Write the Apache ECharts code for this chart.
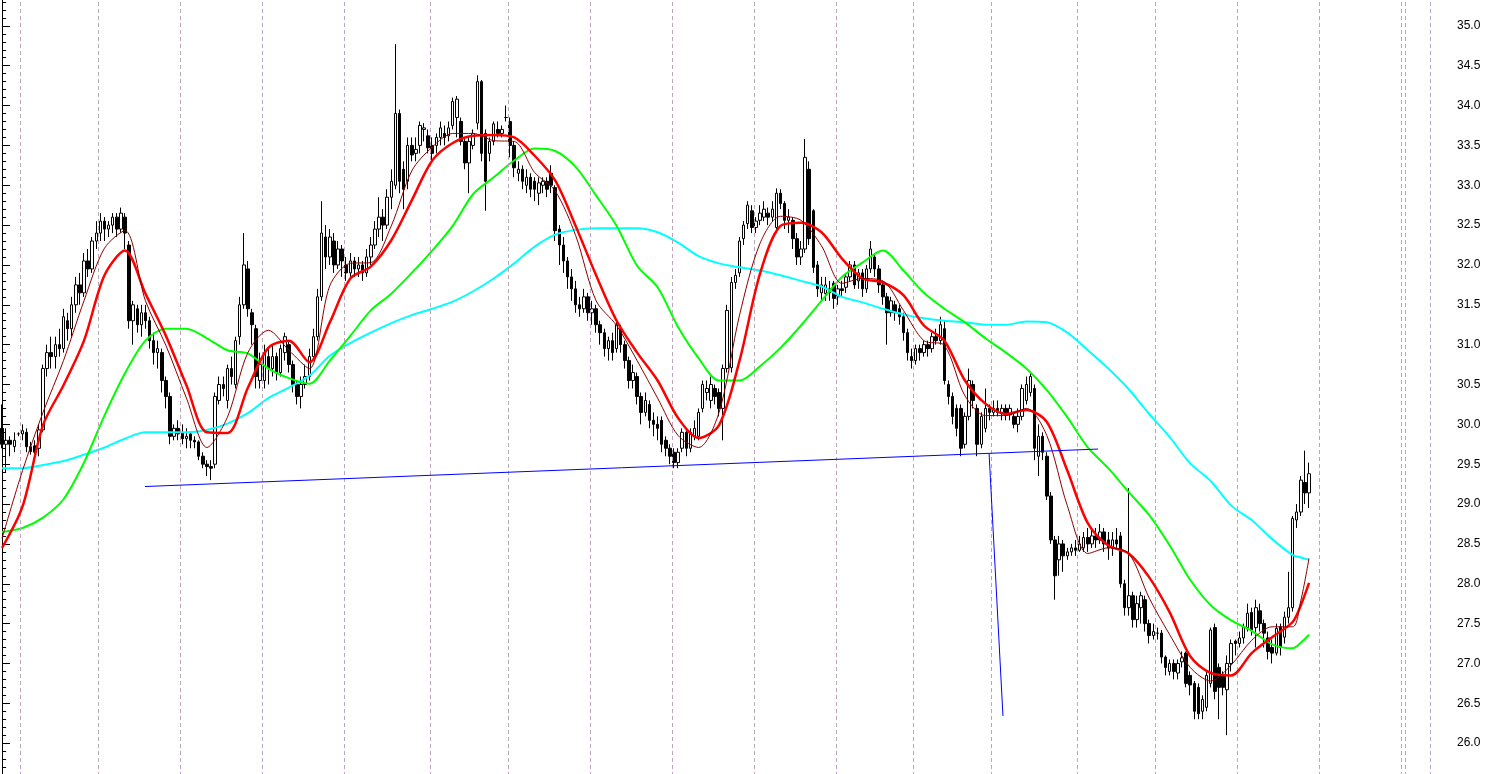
<!DOCTYPE html>
<html><head><meta charset="utf-8">
<script src="https://cdn.jsdelivr.net/npm/echarts/dist/echarts.min.js"></script>
<style>html,body{margin:0;padding:0;background:#fff;overflow:hidden}#c{width:1486px;height:774px}</style>
</head><body><div id="c"></div>
<script>
const SLOTS = 350;
const opens = [
29.95,29.75,29.80,29.72,29.88,29.88,29.90,29.72,29.73,29.70,
29.93,30.70,30.90,30.85,31.00,30.95,31.30,31.20,31.50,31.75,
31.65,32.05,31.95,32.30,32.40,32.55,32.45,32.50,32.60,32.45,
32.60,32.25,31.30,31.45,31.25,31.40,31.30,31.05,30.90,30.90,
30.55,30.35,29.85,29.95,29.90,29.82,29.88,29.80,29.78,29.60,
29.50,29.47,29.50,30.30,30.50,30.30,30.70,30.50,31.10,31.50,
31.95,31.40,31.20,30.55,30.55,30.85,30.70,30.85,30.65,30.90,
31.00,30.75,30.50,30.35,30.50,30.60,30.85,31.10,31.60,32.35,
32.10,32.30,32.00,32.20,32.00,31.90,32.05,31.95,32.00,31.90,
32.10,32.25,32.45,32.60,32.50,32.85,33.00,33.90,33.20,33.05,
33.50,33.40,33.50,33.70,33.62,33.50,33.50,33.60,33.65,33.62,
33.75,33.85,33.80,33.55,33.28,33.50,33.78,34.30,33.65,33.40,
33.55,33.70,33.65,33.85,33.80,33.50,33.15,33.20,33.00,33.10,
33.05,32.90,33.00,33.05,33.15,32.97,32.45,32.25,32.05,31.85,
31.70,31.50,31.45,31.60,31.40,31.45,31.25,31.15,30.95,31.05,
30.95,31.20,31.00,30.80,30.55,30.60,30.35,30.15,30.25,30.05,
30.00,30.05,29.80,29.70,29.65,29.52,29.70,29.90,29.70,29.85,
29.85,30.20,30.40,30.30,30.45,30.40,30.20,30.70,30.71,31.78,
31.90,32.33,32.52,32.68,32.47,32.56,32.60,32.65,32.60,32.47,
32.90,32.77,32.56,32.56,32.33,32.10,32.20,33.20,32.68,32.00,
31.65,31.64,31.70,31.77,31.60,31.70,31.72,31.85,32.00,31.80,
31.90,31.70,31.95,32.10,31.95,31.75,31.60,31.40,31.50,31.45,
31.35,31.15,30.85,30.80,30.95,30.90,31.00,30.95,31.10,31.05,
31.20,30.50,30.35,30.20,30.20,29.75,30.10,30.50,30.20,29.75,
29.95,30.20,30.15,30.20,30.15,30.20,30.12,30.10,30.00,30.10,
30.30,30.40,30.45,29.60,29.85,29.60,29.10,28.55,28.30,28.50,
28.35,28.40,28.45,28.42,28.45,28.58,28.50,28.60,28.55,28.65,
28.55,28.45,28.55,28.60,28.00,27.70,27.85,27.55,27.70,27.80,
27.50,27.35,27.38,27.38,27.08,26.90,27.00,26.88,27.02,27.13,
26.85,26.75,26.70,26.40,26.45,26.75,27.45,26.95,26.85,26.67,
27.00,27.28,27.25,27.32,27.45,27.64,27.45,27.66,27.50,27.32,
27.20,27.13,27.46,27.33,27.58,27.70,28.80,28.90,29.27,29.14];
const closes = [
29.75,29.80,29.75,29.80,29.88,29.92,29.72,29.66,29.65,29.93,
30.70,30.90,30.85,31.00,30.95,31.35,31.20,31.50,31.75,31.65,
32.05,31.95,32.30,32.40,32.55,32.45,32.50,32.60,32.45,32.65,
32.40,31.30,31.50,31.25,31.40,31.30,31.05,30.90,30.95,30.55,
30.35,29.85,29.95,29.88,29.82,29.85,29.80,29.78,29.60,29.50,
29.47,29.45,30.35,30.50,30.45,30.70,30.60,31.05,31.50,32.00,
31.45,31.25,30.60,30.75,30.90,30.70,30.85,30.65,30.95,31.10,
30.75,30.50,30.35,30.50,30.60,30.85,31.10,31.60,32.40,32.10,
32.35,32.00,32.20,32.05,31.90,32.05,31.95,32.00,31.90,32.10,
32.25,32.45,32.60,32.50,32.85,33.05,33.90,33.05,32.95,33.50,
33.38,33.45,33.75,33.72,33.47,33.40,33.60,33.72,33.60,33.72,
34.05,34.08,33.55,33.28,33.55,33.65,34.30,33.40,33.05,33.55,
33.77,33.65,33.70,33.85,33.50,33.22,33.20,33.05,33.10,32.95,
32.95,33.03,33.05,32.95,33.00,32.43,32.25,32.05,31.85,31.70,
31.50,31.45,31.60,31.40,31.45,31.25,31.15,30.95,31.05,30.90,
31.25,31.00,30.80,30.55,30.65,30.35,30.15,30.30,30.05,30.00,
29.95,29.75,29.70,29.60,29.52,29.65,29.90,29.70,29.90,29.95,
30.15,30.50,30.45,30.50,30.35,30.20,30.70,31.43,31.78,31.87,
32.30,32.50,32.75,32.47,32.55,32.65,32.70,32.60,32.70,32.90,
32.77,32.56,32.60,32.33,32.10,32.20,33.35,32.33,31.97,31.70,
31.75,31.75,31.65,31.58,31.70,31.68,31.85,32.00,31.75,31.90,
31.70,31.95,32.20,31.95,31.75,31.60,31.40,31.55,31.40,31.35,
31.15,30.90,30.80,30.95,30.90,31.00,30.95,31.10,31.05,31.25,
30.55,30.35,30.10,29.95,29.70,30.10,30.55,30.30,29.75,30.10,
30.20,30.15,30.20,30.15,30.20,30.12,30.20,30.00,30.10,30.45,
30.50,30.60,29.70,29.85,29.65,29.10,28.55,28.10,28.50,28.35,
28.40,28.45,28.42,28.50,28.58,28.50,28.60,28.55,28.65,28.50,
28.45,28.55,28.50,28.00,27.70,27.85,27.55,27.75,27.85,27.50,
27.35,27.40,27.38,27.08,26.95,27.00,26.90,27.00,27.07,26.75,
26.73,26.40,26.37,26.55,26.85,27.42,26.65,26.70,26.70,27.00,
27.25,27.25,27.32,27.45,27.63,27.42,27.70,27.50,27.38,27.15,
27.13,27.44,27.20,27.58,27.70,28.82,28.90,29.30,29.14,29.38];
const highs = [
30.25,29.95,29.85,29.90,29.90,30.00,29.95,29.78,29.80,30.00,
30.75,31.00,31.10,31.10,31.20,31.45,31.40,31.60,31.85,31.90,
32.15,32.20,32.35,32.55,32.65,32.60,32.55,32.65,32.65,32.72,
32.65,32.30,31.55,31.50,31.50,31.50,31.35,31.15,31.05,30.95,
30.60,30.40,30.00,30.05,30.00,29.95,29.90,29.85,29.80,29.65,
29.55,29.55,30.40,30.60,30.60,30.75,30.85,31.10,31.60,32.40,
32.05,31.45,31.25,30.90,31.00,30.95,31.00,30.90,31.00,31.15,
31.05,30.80,30.55,30.60,30.75,30.95,31.20,31.70,32.80,32.50,
32.45,32.40,32.30,32.25,32.10,32.15,32.10,32.10,32.05,32.20,
32.35,32.55,32.85,32.70,32.95,33.20,34.77,33.95,33.30,33.60,
33.60,33.60,33.80,33.78,33.70,33.60,33.65,33.80,33.75,33.80,
34.10,34.12,33.85,33.60,33.60,33.70,34.38,34.32,33.70,33.60,
33.80,33.80,33.75,34.00,33.85,33.55,33.30,33.25,33.20,33.15,
33.10,33.10,33.10,33.10,33.25,33.00,32.50,32.35,32.10,31.95,
31.80,31.60,31.70,31.65,31.55,31.50,31.30,31.20,31.10,31.15,
31.30,31.25,31.05,30.85,30.75,30.65,30.40,30.40,30.30,30.15,
30.10,30.10,29.85,29.75,29.70,29.70,29.95,29.95,29.95,30.05,
30.20,30.55,30.55,30.60,30.50,30.45,30.75,31.50,31.85,31.95,
32.35,32.55,32.80,32.75,32.60,32.75,32.80,32.72,32.80,32.96,
32.95,32.80,32.70,32.60,32.40,32.30,33.58,33.30,32.70,32.05,
31.85,31.85,31.80,31.80,31.75,31.80,31.90,32.05,32.05,31.95,
31.95,32.00,32.30,32.15,32.00,31.80,31.65,31.60,31.55,31.50,
31.40,31.20,30.95,31.00,31.00,31.05,31.05,31.15,31.20,31.35,
31.30,30.55,30.40,30.25,30.25,30.15,30.70,30.55,30.25,30.15,
30.45,30.25,30.30,30.30,30.25,30.25,30.25,30.15,30.20,30.50,
30.60,30.65,30.50,30.00,29.90,29.65,29.15,28.60,28.60,28.55,
28.45,28.50,28.55,28.60,28.65,28.70,28.70,28.70,28.75,28.70,
28.65,28.65,28.70,28.65,28.05,29.20,27.90,27.85,27.90,27.85,
27.55,27.50,27.45,27.42,27.10,27.05,27.05,27.05,27.15,27.15,
26.90,26.78,26.75,26.60,26.90,27.45,27.50,27.00,26.90,27.10,
27.30,27.30,27.40,27.50,27.75,27.70,27.80,27.75,27.55,27.40,
27.30,27.50,27.50,27.65,28.15,28.85,29.00,29.35,29.67,29.52];
const lows = [
29.70,29.40,29.60,29.65,29.85,29.80,29.65,29.62,29.60,29.60,
29.90,30.60,30.70,30.70,30.85,30.90,31.05,31.10,31.40,31.50,
31.60,31.85,31.90,32.20,32.30,32.30,32.35,32.40,32.35,32.40,
32.20,31.20,31.00,31.15,31.10,31.20,30.95,30.75,30.70,30.40,
30.20,29.75,29.80,29.80,29.75,29.70,29.70,29.70,29.55,29.45,
29.35,29.30,29.45,30.25,30.35,30.20,30.50,30.45,31.00,31.45,
31.35,31.00,30.45,30.45,30.45,30.50,30.60,30.55,30.60,30.80,
30.65,30.40,30.25,30.20,30.45,30.55,30.80,31.05,31.55,31.95,
32.00,31.90,31.95,31.85,31.80,31.85,31.85,31.85,31.80,31.85,
32.00,32.20,32.35,32.30,32.45,32.70,32.95,32.90,32.70,32.95,
33.30,33.30,33.40,33.55,33.40,33.30,33.40,33.50,33.50,33.55,
33.70,33.60,33.50,33.20,32.90,33.45,33.70,33.30,32.68,33.30,
33.50,33.60,33.60,33.80,33.35,33.10,33.05,32.95,32.90,32.85,
32.80,32.75,32.90,32.85,32.90,32.30,32.00,31.90,31.70,31.55,
31.40,31.35,31.40,31.30,31.25,31.15,31.00,30.85,30.80,30.80,
30.90,30.90,30.70,30.45,30.45,30.25,30.00,30.10,29.95,29.85,
29.80,29.65,29.60,29.50,29.45,29.45,29.65,29.60,29.65,29.80,
29.80,30.15,30.30,30.20,30.25,30.10,29.80,30.65,30.65,31.70,
31.85,32.25,32.45,32.40,32.40,32.50,32.55,32.50,32.55,32.40,
32.70,32.45,32.40,32.20,32.00,32.00,32.15,32.25,31.90,31.60,
31.55,31.55,31.55,31.45,31.50,31.60,31.65,31.80,31.70,31.70,
31.60,31.65,31.90,31.85,31.65,31.50,31.00,31.35,31.30,31.25,
31.05,30.80,30.70,30.75,30.80,30.85,30.85,30.90,31.00,31.00,
30.50,30.25,30.00,29.85,29.60,29.70,30.05,30.20,29.60,29.70,
29.90,30.05,30.10,30.10,30.05,30.05,30.05,29.95,29.90,30.05,
30.25,30.35,29.55,29.35,29.55,29.05,28.50,27.80,28.10,28.15,
28.30,28.35,28.35,28.40,28.40,28.40,28.45,28.45,28.50,28.40,
28.30,28.35,28.45,27.95,27.60,27.60,27.45,27.45,27.50,27.40,
27.25,27.30,27.30,27.00,26.85,26.85,26.80,26.80,26.95,26.70,
26.60,26.30,26.30,26.30,26.40,26.70,26.55,26.30,26.60,26.10,
26.90,27.10,27.20,27.25,27.40,27.35,27.20,27.40,27.20,27.05,
27.00,27.10,27.10,27.25,27.50,27.65,28.70,28.85,29.00,28.95];

const maIdx = [0,5,10,15,20,25,30,35,40,45,50,55,60,65,70,75,80,85,90,95,100,105,110,115,120,125,130,135,140,145,150,155,160,165,170,175,180,185,190,195,200,205,210,215,220,225,230,235,240,245,250,255,260,265,270,275,280,285,290,295,300,305,310,315,317,319];
const maThin = [28.57,29.42,30.15,30.80,31.55,32.21,32.43,31.55,30.99,30.33,29.71,30.09,30.90,31.18,30.93,30.70,31.74,32.02,32.03,32.49,33.18,33.48,33.65,33.65,33.56,33.55,33.16,32.93,32.37,31.55,31.24,30.80,30.33,29.86,29.71,30.15,31.37,32.27,32.61,32.56,32.24,31.77,31.83,31.80,31.43,31.05,30.99,30.36,30.11,30.11,30.20,29.86,28.98,28.38,28.45,28.38,27.82,27.36,26.95,26.78,26.98,27.29,27.46,27.46,27.79,28.32];
const maRed = [28.45,28.97,29.99,30.49,31.05,31.87,32.18,31.64,31.11,30.49,29.90,29.89,30.46,30.96,31.05,30.78,31.28,31.83,31.98,32.31,32.81,33.31,33.53,33.62,33.63,33.60,33.37,33.06,32.49,31.87,31.30,30.90,30.55,30.08,29.83,29.99,30.80,31.89,32.49,32.53,32.41,32.08,31.83,31.78,31.62,31.24,31.05,30.55,30.26,30.13,30.18,30.03,29.42,28.76,28.48,28.38,28.08,27.64,27.09,26.88,26.85,27.13,27.33,27.52,27.73,28.01];
const maGreen = [28.65,28.70,28.83,29.06,29.52,30.11,30.64,31.05,31.20,31.20,31.08,30.93,30.89,30.70,30.58,30.51,30.80,31.11,31.43,31.64,31.90,32.18,32.49,32.89,33.10,33.31,33.46,33.43,33.23,32.87,32.49,31.99,31.72,31.22,30.83,30.55,30.55,30.73,30.96,31.24,31.55,31.85,32.03,32.18,31.93,31.65,31.45,31.28,31.08,30.90,30.70,30.43,30.09,29.71,29.45,29.15,28.86,28.48,28.05,27.73,27.54,27.41,27.24,27.19,27.26,27.36];
const maCyan = [29.45,29.45,29.49,29.54,29.62,29.71,29.82,29.90,29.90,29.90,29.93,30.01,30.14,30.33,30.46,30.61,30.86,31.02,31.15,31.27,31.37,31.45,31.54,31.67,31.83,32.02,32.23,32.38,32.44,32.46,32.46,32.46,32.41,32.28,32.11,32.02,31.97,31.93,31.87,31.80,31.73,31.60,31.53,31.45,31.38,31.33,31.30,31.28,31.25,31.25,31.29,31.28,31.15,30.93,30.70,30.44,30.13,29.84,29.51,29.29,28.98,28.80,28.56,28.36,28.33,28.30];

const trendLine = [[34.9, 29.22], [267.5, 29.69]];
const dropLine = [[240.9, 29.64], [244.3, 26.34]];
const monthBounds = [5,24,44,64,84,105,124,144,164,184,204,223,242,263,282,302,322,342,343,349];

const categories = Array.from({length: SLOTS}, (_, i) => String(i));
const candleData = opens.map((o, i) => [o, closes[i], lows[i], highs[i]]);
const pairs = arr => maIdx.map((x, k) => [x, arr[k]]);

const chart = echarts.init(document.getElementById('c'), null, {renderer: 'canvas'});
const maLine = (name, arr, color, width, z) => ({
  name, type: 'line', xAxisIndex: 1, yAxisIndex: 0, data: pairs(arr),
  showSymbol: false, symbol: 'none', smooth: 0.3,
  lineStyle: {color, width}, z, silent: true
});
chart.setOption({
  animation: false,
  backgroundColor: '#ffffff',
  grid: {left: 0, right: 52, top: -14, bottom: -9, containLabel: false, outerBoundsMode: 'none'},
  xAxis: [
    {type: 'category', data: categories, boundaryGap: true, show: false},
    {type: 'value', min: -0.5, max: SLOTS - 0.5, show: false}
  ],
  yAxis: {
    type: 'value', position: 'right', min: 25.5, max: 35.5, interval: 0.5,
    axisLine: {show: true, lineStyle: {color: '#000', width: 1}},
    axisTick: {show: true, length: 8, lineStyle: {color: '#000', width: 1}},
    minorTick: {show: true, splitNumber: 5, length: 4, lineStyle: {color: '#000', width: 1}},
    axisLabel: {color: '#000', fontSize: 12, fontFamily: 'Liberation Sans, Arial, sans-serif', margin: 23,
      formatter: v => v.toFixed(1)},
    splitLine: {show: false}
  },
  series: [
    {
      type: 'line', xAxisIndex: 1, data: [], z: 1, silent: true,
      markLine: {
        silent: true, symbol: ['none', 'none'], label: {show: false},
        lineStyle: {color: '#bba6bb', type: [4, 3], width: 1},
        data: monthBounds.map(k => ({xAxis: k - 0.5}))
      }
    },
    {
      type: 'candlestick', xAxisIndex: 0, yAxisIndex: 0, data: candleData, barWidth: 3, z: 2, silent: true,
      itemStyle: {color: '#ffffff', color0: '#000000', borderColor: '#000000', borderColor0: '#000000', borderWidth: 1}
    },
    maLine('cyan', maCyan, '#00ffff', 2, 3),
    maLine('green', maGreen, '#00ff00', 2, 4),
    maLine('red', maRed, '#ff0000', 2.5, 5),
    maLine('thin', maThin, '#8b0000', 1, 6),
    {type: 'line', xAxisIndex: 1, data: trendLine, showSymbol: false, symbol: 'none', lineStyle: {color: '#0000ff', width: 1}, z: 7, silent: true},
    {type: 'line', xAxisIndex: 1, data: dropLine, showSymbol: false, symbol: 'none', lineStyle: {color: '#0000ff', width: 1}, z: 7, silent: true}
  ]
});
</script>
</body></html>
